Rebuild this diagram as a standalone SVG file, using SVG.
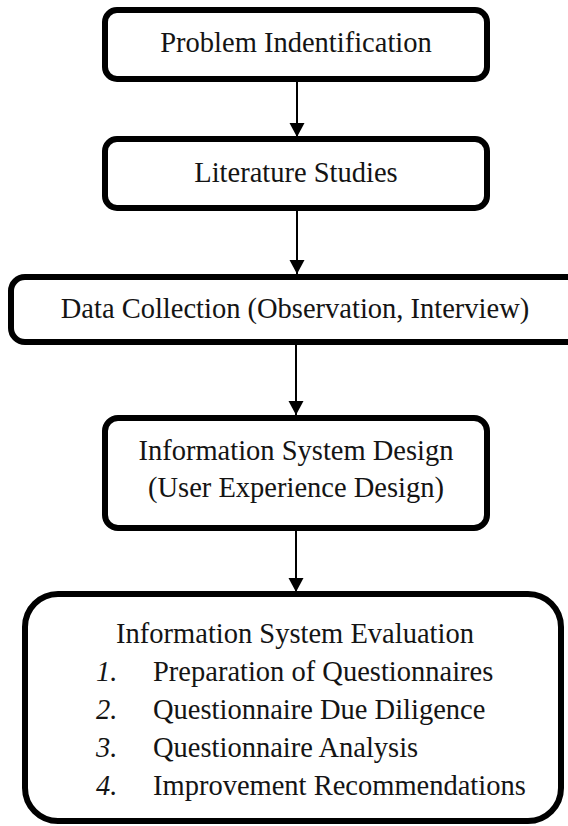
<svg xmlns="http://www.w3.org/2000/svg" width="568" height="826" viewBox="0 0 568 826">
  <style>
    .box { fill: #ffffff; stroke: #000000; stroke-width: 6; }
    .lbl { font-family: "Liberation Serif", "Times New Roman", serif; font-size: 28.5px; fill: #141414; }
    .mid { text-anchor: middle; }
    .num { font-style: italic; }
    .link { stroke: #000000; stroke-width: 2; fill: none; }
  </style>
  <defs>
    <marker id="head" markerUnits="userSpaceOnUse" markerWidth="16" markerHeight="16" refX="14" refY="7.5" orient="auto">
      <path d="M0,0 L14,7.5 L0,15 Z" fill="#000000"/>
    </marker>
  </defs>
  <rect width="568" height="826" fill="#ffffff"/>

  <!-- connectors between the steps -->
  <g id="connectors">
    <line class="link" x1="297" y1="82" x2="297" y2="137" marker-end="url(#head)"/>
    <line class="link" x1="297" y1="211" x2="297" y2="274" marker-end="url(#head)"/>
    <line class="link" x1="296" y1="345" x2="296" y2="415" marker-end="url(#head)"/>
    <line class="link" x1="296" y1="531" x2="296" y2="592" marker-end="url(#head)"/>
  </g>

  <g id="problem-identification">
    <rect class="box" x="105" y="10" width="382" height="69" rx="12"/>
    <text class="lbl mid" x="296" y="52">Problem Indentification</text>
  </g>

  <g id="literature-studies">
    <rect class="box" x="105" y="139" width="382" height="69" rx="12"/>
    <text class="lbl mid" x="296" y="182">Literature Studies</text>
  </g>

  <g id="data-collection">
    <rect class="box" x="11" y="277" width="570" height="65" rx="14"/>
    <text class="lbl mid" x="295" y="318">Data Collection (Observation, Interview)</text>
  </g>

  <g id="system-design">
    <rect class="box" x="105" y="418" width="382" height="110" rx="13"/>
    <text class="lbl mid" x="296" y="460">Information System Design</text>
    <text class="lbl mid" x="296" y="497">(User Experience Design)</text>
  </g>

  <g id="system-evaluation">
    <rect class="box" x="25" y="594" width="536" height="227" rx="33"/>
    <text class="lbl mid" x="295" y="643">Information System Evaluation</text>
    <text class="lbl num" x="96" y="681">1.</text>
    <text class="lbl" x="153" y="681">Preparation of Questionnaires</text>
    <text class="lbl num" x="96" y="719">2.</text>
    <text class="lbl" x="153" y="719">Questionnaire Due Diligence</text>
    <text class="lbl num" x="96" y="757">3.</text>
    <text class="lbl" x="153" y="757">Questionnaire Analysis</text>
    <text class="lbl num" x="96" y="795">4.</text>
    <text class="lbl" x="153" y="795">Improvement Recommendations</text>
  </g>
</svg>
